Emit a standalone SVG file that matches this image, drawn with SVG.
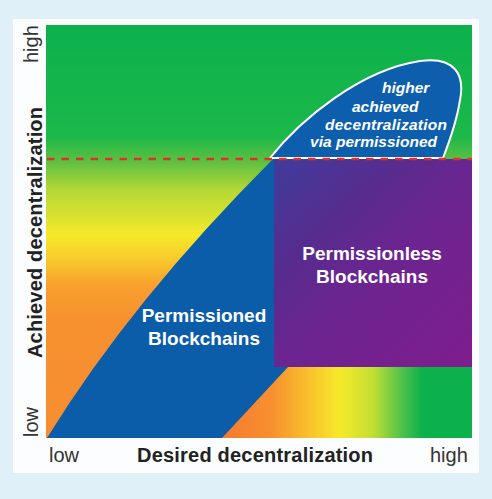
<svg xmlns="http://www.w3.org/2000/svg" width="492" height="499" viewBox="0 0 492 499">
  <defs>
    <linearGradient id="bgGrad" gradientUnits="userSpaceOnUse" x1="0" y1="25" x2="0" y2="438">
      <stop offset="0" stop-color="#0bb14c"/>
      <stop offset="0.27" stop-color="#1cb84a"/>
      <stop offset="0.33" stop-color="#5cc040"/>
      <stop offset="0.40" stop-color="#b5d835"/>
      <stop offset="0.51" stop-color="#f5e92a"/>
      <stop offset="0.57" stop-color="#f8c82c"/>
      <stop offset="0.63" stop-color="#f9a02e"/>
      <stop offset="0.71" stop-color="#f7912f"/>
      <stop offset="1" stop-color="#f68d30"/>
    </linearGradient>
    <linearGradient id="bandGrad" gradientUnits="userSpaceOnUse" x1="222" y1="0" x2="472" y2="0">
      <stop offset="0" stop-color="#f47a30"/>
      <stop offset="0.2" stop-color="#f7902f"/>
      <stop offset="0.32" stop-color="#f9b82c"/>
      <stop offset="0.47" stop-color="#f6e92a"/>
      <stop offset="0.6" stop-color="#c6df33"/>
      <stop offset="0.72" stop-color="#4ec24a"/>
      <stop offset="0.8" stop-color="#0db14b"/>
      <stop offset="1" stop-color="#0db14b"/>
    </linearGradient>
    <linearGradient id="purpleGrad" gradientUnits="userSpaceOnUse" x1="274" y1="159" x2="472" y2="367">
      <stop offset="0" stop-color="#3f3c9c"/>
      <stop offset="0.3" stop-color="#572c8e"/>
      <stop offset="0.5" stop-color="#6a2590"/>
      <stop offset="1" stop-color="#7f1d8d"/>
    </linearGradient>
    <style>
      .lbl { font-family: "Liberation Sans", Arial, sans-serif; font-weight: bold; fill: #ffffff; font-size: 19px; text-anchor: middle; }
      .bub { font-family: "Liberation Sans", Arial, sans-serif; font-weight: bold; font-style: italic; fill: #ffffff; font-size: 15.5px; }
      .axis { font-family: "Liberation Sans", Arial, sans-serif; font-weight: bold; fill: #222222; font-size: 20px; }
      .tick { font-family: "Liberation Sans", Arial, sans-serif; fill: #333333; font-size: 20px; }
    </style>
  </defs>

  <rect x="0" y="0" width="492" height="499" fill="#dff0f9"/>
  <rect x="13" y="19" width="466" height="454" fill="#fbfdfe"/>

  <g id="plot">
    <rect x="46" y="25" width="426" height="413" fill="url(#bgGrad)"/>
    <rect x="222" y="367" width="250" height="71" fill="url(#bandGrad)"/>
  </g>

  <g id="permissioned">
    <path d="M47,438 Q132,300 273,159 L280,159 L280,367 L288,367 L222,438 Z" fill="#0b5ca9"/>
    <text class="lbl" x="204" y="322">Permissioned</text>
    <text class="lbl" x="204" y="345">Blockchains</text>
  </g>

  <g id="permissionless">
    <rect x="274" y="159" width="198" height="208" fill="url(#purpleGrad)"/>
    <text class="lbl" x="372" y="260">Permissionless</text>
    <text class="lbl" x="372" y="283">Blockchains</text>
  </g>

  <g id="bubble">
    <path d="M270,158 C300,120 360,70 420,61 C455,56 465,75 460,100 C457,120 450,140 443,158 Z" fill="#0d5fae" stroke="#ffffff" stroke-width="2"/>
    <text class="bub" x="382" y="93">higher</text>
    <text class="bub" x="352" y="112">achieved</text>
    <text class="bub" x="325" y="130" textLength="122">decentralization</text>
    <text class="bub" x="310" y="147" textLength="127">via permissioned</text>
  </g>

  <g id="connectors">
    <line x1="47" y1="159" x2="472" y2="159" stroke="#e0302a" stroke-width="2.5" stroke-dasharray="7.5,7"/>
  </g>

  <g id="axes">
    <text class="axis" x="137" y="462" textLength="236">Desired decentralization</text>
    <text class="tick" x="49" y="462">low</text>
    <text class="tick" x="430" y="462">high</text>
    <text class="axis" transform="translate(42,358) rotate(-90)" x="0" y="0" textLength="251">Achieved decentralization</text>
    <text class="tick" transform="translate(38,437) rotate(-90)" x="0" y="0">low</text>
    <text class="tick" transform="translate(38,63) rotate(-90)" x="0" y="0">high</text>
  </g>
</svg>
